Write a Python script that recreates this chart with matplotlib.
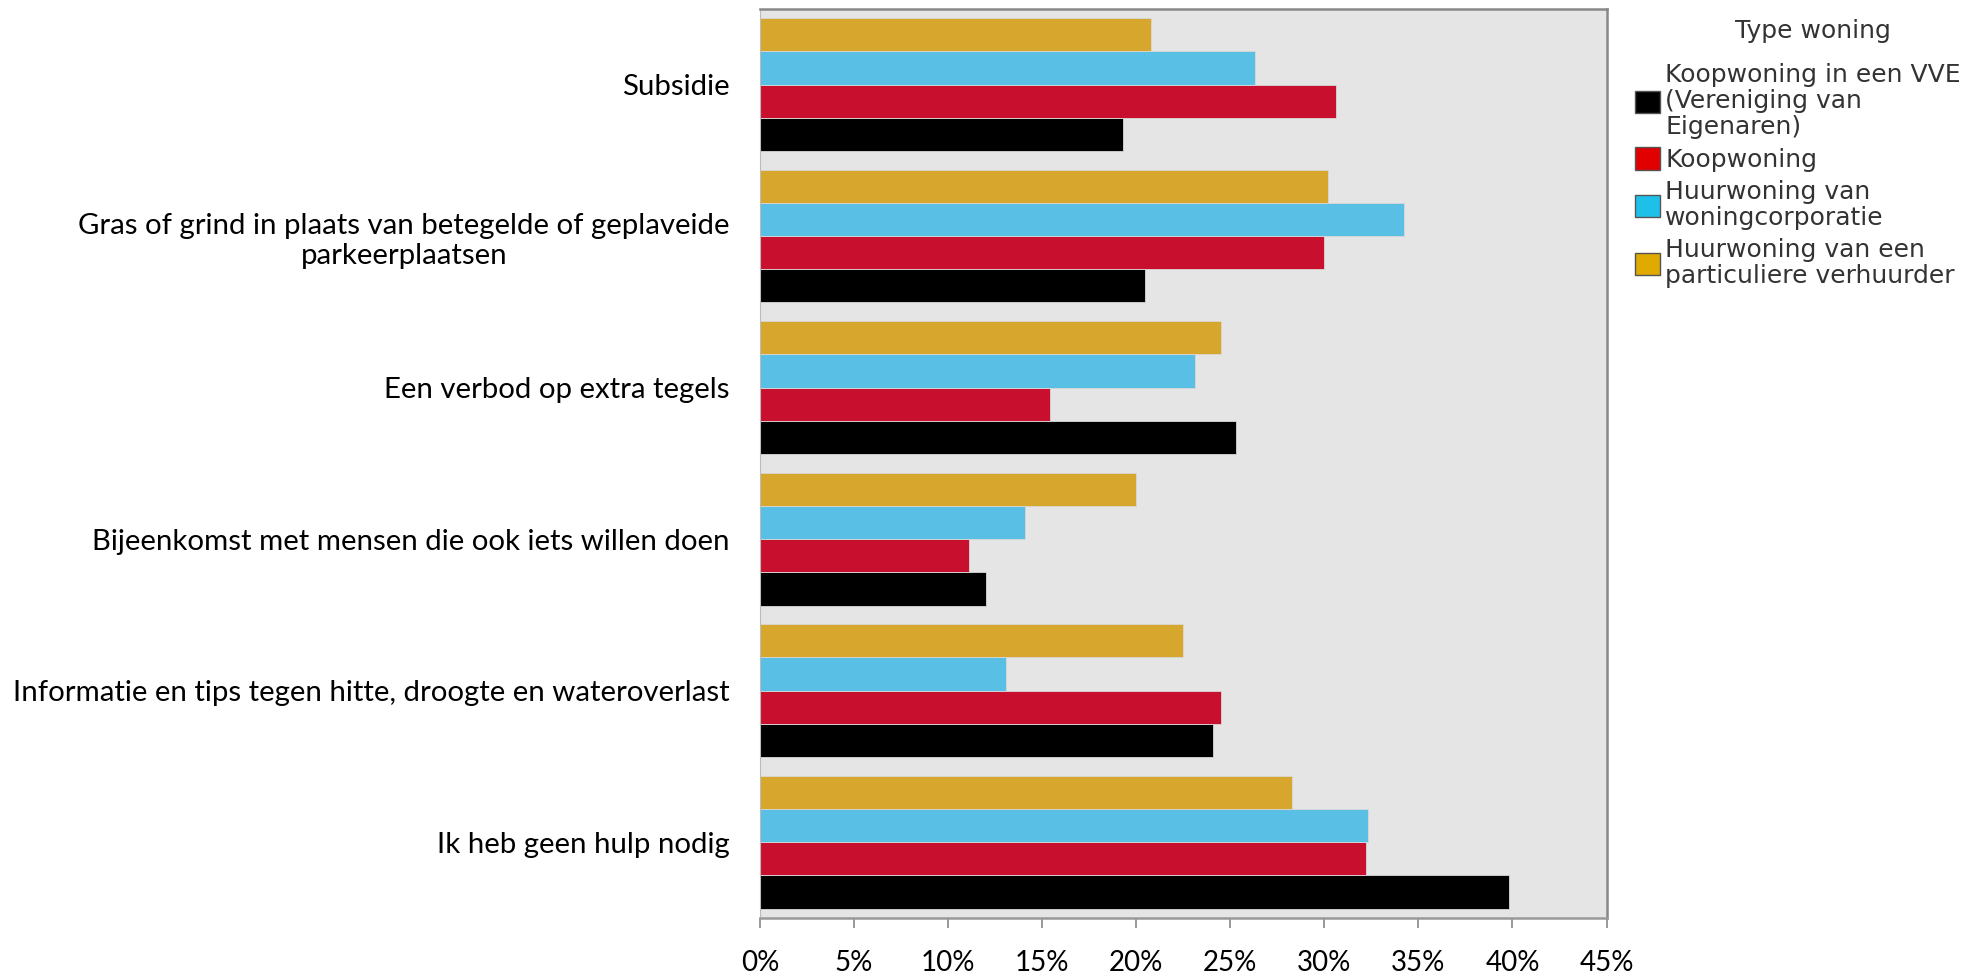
import matplotlib.pyplot as plt
import numpy as np
from matplotlib.patches import Patch

categories = [
    "Subsidie",
    "Gras of grind in plaats van betegelde of geplaveide\nparkeerplaatsen",
    "Een verbod op extra tegels",
    "Bijeenkomst met mensen die ook iets willen doen",
    "Informatie en tips tegen hitte, droogte en wateroverlast",
    "Ik heb geen hulp nodig",
]

# percentages per woningtype, same order as categories
vve = [19.3, 20.45, 25.3, 12.0, 24.1, 39.8]
koop = [30.6, 30.0, 15.4, 11.1, 24.5, 32.2]
huur_corp = [26.3, 34.25, 23.1, 14.1, 13.1, 32.3]
huur_part = [20.8, 30.2, 24.5, 20.0, 22.5, 28.3]

series_labels = [
    "Koopwoning in een VVE\n(Vereniging van\nEigenaren)",
    "Koopwoning",
    "Huurwoning van\nwoningcorporatie",
    "Huurwoning van een\nparticuliere verhuurder",
]
xticks = [0, 5, 10, 15, 20, 25, 30, 35, 40, 45]

bar_colors = ["#000000", "#C8102E", "#59BFE5", "#D6A72C"]
legend_colors = ["#000000", "#E00000", "#1EC0EA", "#E0AA00"]

fig = plt.figure(figsize=(19.64, 9.75), dpi=100)
ax = fig.add_axes([0.387, 0.0585, 0.431, 0.9325])
ax.set_facecolor("#E5E5E5")

y = np.arange(len(categories))
h = 0.219
offsets = [1.5 * h, 0.5 * h, -0.5 * h, -1.5 * h]
for vals, off, col in zip([vve, koop, huur_corp, huur_part], offsets, bar_colors):
    ax.barh(y + off, vals, height=h, color=col, edgecolor="#D8D8D8", linewidth=0.6)

ax.set_ylim(5.5, -0.5)
ax.set_xlim(0, 45)
ax.set_xticks(xticks)
ax.set_xticklabels([f"{t}%" for t in xticks], fontsize=20, family="Lato")
ax.set_yticks(y)
ax.set_yticklabels(categories, fontsize=21.2, family="Lato", linespacing=1.2)
for lab in ax.get_yticklabels():
    lab.set_multialignment("center")
ax.tick_params(axis="y", length=0, pad=22)
ax.tick_params(axis="x", length=7, width=1.2, color="#888888", direction="out", pad=16)

ax.spines["left"].set_color("#BBBBBB")
ax.spines["bottom"].set_color("#999999")
ax.spines["top"].set_color("#888888")
ax.spines["right"].set_color("#888888")
for s in ["top", "right", "bottom"]:
    ax.spines[s].set_linewidth(1.8)

fig.text(0.923, 0.968, "Type woning", ha="center", va="center", fontsize=18,
         family="DejaVu Sans", color="#333333")

handles = [Patch(facecolor=c, edgecolor="#555555", linewidth=1) for c in legend_colors]
leg = fig.legend(handles, series_labels, loc="upper left", bbox_to_anchor=(0.8325, 0.935),
                 frameon=False, handlelength=1.0, handleheight=1.0,
                 handletextpad=0.2, labelspacing=0.32, borderaxespad=0, borderpad=0,
                 prop={"family": "DejaVu Sans", "size": 18})
for t in leg.get_texts():
    t.set_linespacing(1.1)
    t.set_color("#333333")

fig.savefig("out.png", dpi=100)
